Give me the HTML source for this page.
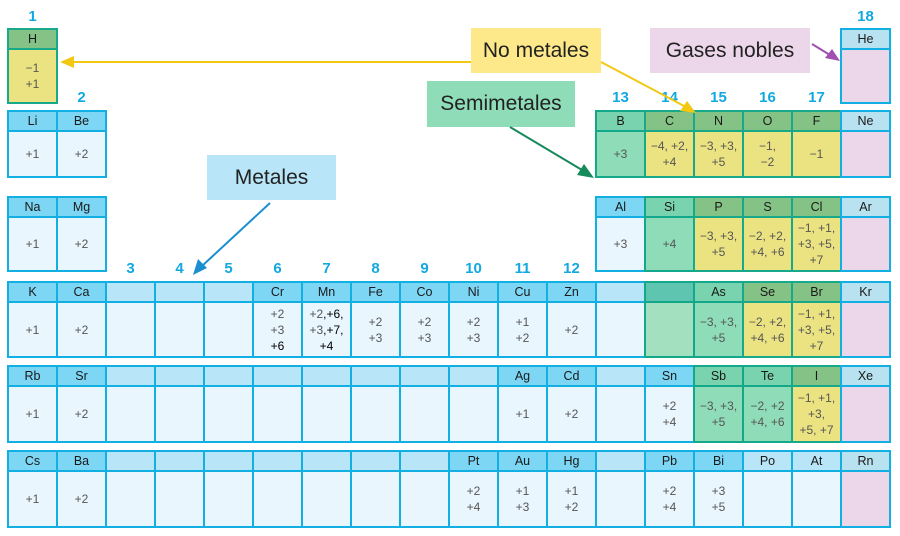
<!DOCTYPE html>
<html><head><meta charset="utf-8"><style>
body{margin:0;width:900px;height:536px;background:#fff;position:relative;overflow:hidden;font-family:"Liberation Sans",sans-serif}
.c{position:absolute;width:51px;box-sizing:border-box;border:2px solid #12b0e2;background:#eaf6fd;margin-left:-1px}
.c .h{height:18px;line-height:18px;text-align:center;font-size:12.5px;color:#1a1a1a;background:#7dd6f4;border-bottom:2px solid #12b0e2}
.c .b{position:absolute;top:20px;bottom:0;left:0;right:0;display:flex;align-items:center;justify-content:center;text-align:center;font-size:12px;line-height:16px;color:#555}
.e .h{background:#b8e6f8}
.s{background:#8fdcb8;border-color:#14a88a}.s .h{background:#78d3ae;border-color:#14a88a}
.s2{background:#a2e0c0;border-color:#14a88a}.s2 .h{background:#5ec6b0;border-color:#14a88a}
.n{background:#ebe382;border-color:#18a88a}.n .h{background:#85c285;border-color:#18a88a}
.g{background:#ecd7ea}.g .h{background:#b8e2f0}
.num{position:absolute;font-weight:bold;font-size:15px;color:#12a8e0;width:49px;text-align:center}
.lab{position:absolute;font-size:21px;color:#222;display:flex;align-items:center;justify-content:center}
</style></head><body>
<div class="num" style="left:8px;top:8px">1</div>
<div class="num" style="left:841px;top:8px">18</div>
<div class="num" style="left:57px;top:89px">2</div>
<div class="num" style="left:596px;top:89px">13</div>
<div class="num" style="left:645px;top:89px">14</div>
<div class="num" style="left:694px;top:89px">15</div>
<div class="num" style="left:743px;top:89px">16</div>
<div class="num" style="left:792px;top:89px">17</div>
<div class="num" style="left:106px;top:260px">3</div>
<div class="num" style="left:155px;top:260px">4</div>
<div class="num" style="left:204px;top:260px">5</div>
<div class="num" style="left:253px;top:260px">6</div>
<div class="num" style="left:302px;top:260px">7</div>
<div class="num" style="left:351px;top:260px">8</div>
<div class="num" style="left:400px;top:260px">9</div>
<div class="num" style="left:449px;top:260px">10</div>
<div class="num" style="left:498px;top:260px">11</div>
<div class="num" style="left:547px;top:260px">12</div>

<div class="lab" style="left:471px;top:28px;width:130px;height:45px;background:#fde98a">No metales</div>
<div class="lab" style="left:650px;top:28px;width:160px;height:45px;background:#ecd7ea">Gases nobles</div>
<div class="lab" style="left:427px;top:81px;width:148px;height:46px;background:#8fdcb8">Semimetales</div>
<div class="lab" style="left:207px;top:155px;width:129px;height:45px;background:#b8e6f8">Metales</div>

<!-- row1 -->
<div class="c n" style="left:8px;top:28px;height:76px"><div class="h">H</div><div class="b">−1<br>+1</div></div>
<div class="c g" style="left:841px;top:28px;height:76px"><div class="h">He</div><div class="b"></div></div>
<!-- row2 -->
<div class="c" style="left:8px;top:110px;height:68px"><div class="h">Li</div><div class="b">+1</div></div>
<div class="c" style="left:57px;top:110px;height:68px"><div class="h">Be</div><div class="b">+2</div></div>
<div class="c s" style="left:596px;top:110px;height:68px"><div class="h">B</div><div class="b">+3</div></div>
<div class="c n" style="left:645px;top:110px;height:68px"><div class="h">C</div><div class="b">−4, +2,<br>+4</div></div>
<div class="c n" style="left:694px;top:110px;height:68px"><div class="h">N</div><div class="b">−3, +3,<br>+5</div></div>
<div class="c n" style="left:743px;top:110px;height:68px"><div class="h">O</div><div class="b">−1,<br>−2</div></div>
<div class="c n" style="left:792px;top:110px;height:68px"><div class="h">F</div><div class="b">−1</div></div>
<div class="c g" style="left:841px;top:110px;height:68px"><div class="h">Ne</div><div class="b"></div></div>
<!-- row3 -->
<div class="c" style="left:8px;top:196px;height:76px"><div class="h">Na</div><div class="b">+1</div></div>
<div class="c" style="left:57px;top:196px;height:76px"><div class="h">Mg</div><div class="b">+2</div></div>
<div class="c" style="left:596px;top:196px;height:76px"><div class="h">Al</div><div class="b">+3</div></div>
<div class="c s" style="left:645px;top:196px;height:76px"><div class="h">Si</div><div class="b">+4</div></div>
<div class="c n" style="left:694px;top:196px;height:76px"><div class="h">P</div><div class="b">−3, +3,<br>+5</div></div>
<div class="c n" style="left:743px;top:196px;height:76px"><div class="h">S</div><div class="b">−2, +2,<br>+4, +6</div></div>
<div class="c n" style="left:792px;top:196px;height:76px"><div class="h">Cl</div><div class="b">−1, +1,<br>+3, +5,<br>+7</div></div>
<div class="c g" style="left:841px;top:196px;height:76px"><div class="h">Ar</div><div class="b"></div></div>
<!-- row4 -->
<div class="c" style="left:8px;top:281px;height:77px"><div class="h">K</div><div class="b">+1</div></div>
<div class="c" style="left:57px;top:281px;height:77px"><div class="h">Ca</div><div class="b">+2</div></div>
<div class="c e" style="left:106px;top:281px;height:77px"><div class="h"></div></div>
<div class="c e" style="left:155px;top:281px;height:77px"><div class="h"></div></div>
<div class="c e" style="left:204px;top:281px;height:77px"><div class="h"></div></div>
<div class="c" style="left:253px;top:281px;height:77px"><div class="h">Cr</div><div class="b"><div>+2<br>+3<br><span style="color:#000">+6</span></div></div></div>
<div class="c" style="left:302px;top:281px;height:77px"><div class="h">Mn</div><div class="b"><div>+2<span style="color:#000">,+6,</span><br>+3<span style="color:#000">,+7,</span><br><span style="color:#000">+4</span></div></div></div>
<div class="c" style="left:351px;top:281px;height:77px"><div class="h">Fe</div><div class="b">+2<br>+3</div></div>
<div class="c" style="left:400px;top:281px;height:77px"><div class="h">Co</div><div class="b">+2<br>+3</div></div>
<div class="c" style="left:449px;top:281px;height:77px"><div class="h">Ni</div><div class="b">+2<br>+3</div></div>
<div class="c" style="left:498px;top:281px;height:77px"><div class="h">Cu</div><div class="b">+1<br>+2</div></div>
<div class="c" style="left:547px;top:281px;height:77px"><div class="h">Zn</div><div class="b">+2</div></div>
<div class="c e" style="left:596px;top:281px;height:77px"><div class="h"></div></div>
<div class="c s2" style="left:645px;top:281px;height:77px"><div class="h"></div></div>
<div class="c s" style="left:694px;top:281px;height:77px"><div class="h">As</div><div class="b">−3, +3,<br>+5</div></div>
<div class="c n" style="left:743px;top:281px;height:77px"><div class="h">Se</div><div class="b">−2, +2,<br>+4, +6</div></div>
<div class="c n" style="left:792px;top:281px;height:77px"><div class="h">Br</div><div class="b">−1, +1,<br>+3, +5,<br>+7</div></div>
<div class="c g" style="left:841px;top:281px;height:77px"><div class="h">Kr</div><div class="b"></div></div>
<!-- row5 -->
<div class="c" style="left:8px;top:365px;height:78px"><div class="h">Rb</div><div class="b">+1</div></div>
<div class="c" style="left:57px;top:365px;height:78px"><div class="h">Sr</div><div class="b">+2</div></div>
<div class="c e" style="left:106px;top:365px;height:78px"><div class="h"></div></div>
<div class="c e" style="left:155px;top:365px;height:78px"><div class="h"></div></div>
<div class="c e" style="left:204px;top:365px;height:78px"><div class="h"></div></div>
<div class="c e" style="left:253px;top:365px;height:78px"><div class="h"></div></div>
<div class="c e" style="left:302px;top:365px;height:78px"><div class="h"></div></div>
<div class="c e" style="left:351px;top:365px;height:78px"><div class="h"></div></div>
<div class="c e" style="left:400px;top:365px;height:78px"><div class="h"></div></div>
<div class="c e" style="left:449px;top:365px;height:78px"><div class="h"></div></div>
<div class="c" style="left:498px;top:365px;height:78px"><div class="h">Ag</div><div class="b">+1</div></div>
<div class="c" style="left:547px;top:365px;height:78px"><div class="h">Cd</div><div class="b">+2</div></div>
<div class="c e" style="left:596px;top:365px;height:78px"><div class="h"></div></div>
<div class="c" style="left:645px;top:365px;height:78px"><div class="h">Sn</div><div class="b">+2<br>+4</div></div>
<div class="c s" style="left:694px;top:365px;height:78px"><div class="h">Sb</div><div class="b">−3, +3,<br>+5</div></div>
<div class="c s" style="left:743px;top:365px;height:78px"><div class="h">Te</div><div class="b">−2, +2<br>+4, +6</div></div>
<div class="c n" style="left:792px;top:365px;height:78px"><div class="h">I</div><div class="b">−1, +1,<br>+3,<br>+5, +7</div></div>
<div class="c g" style="left:841px;top:365px;height:78px"><div class="h">Xe</div><div class="b"></div></div>
<!-- row6 -->
<div class="c" style="left:8px;top:450px;height:78px"><div class="h">Cs</div><div class="b">+1</div></div>
<div class="c" style="left:57px;top:450px;height:78px"><div class="h">Ba</div><div class="b">+2</div></div>
<div class="c e" style="left:106px;top:450px;height:78px"><div class="h"></div></div>
<div class="c e" style="left:155px;top:450px;height:78px"><div class="h"></div></div>
<div class="c e" style="left:204px;top:450px;height:78px"><div class="h"></div></div>
<div class="c e" style="left:253px;top:450px;height:78px"><div class="h"></div></div>
<div class="c e" style="left:302px;top:450px;height:78px"><div class="h"></div></div>
<div class="c e" style="left:351px;top:450px;height:78px"><div class="h"></div></div>
<div class="c e" style="left:400px;top:450px;height:78px"><div class="h"></div></div>
<div class="c" style="left:449px;top:450px;height:78px"><div class="h">Pt</div><div class="b">+2<br>+4</div></div>
<div class="c" style="left:498px;top:450px;height:78px"><div class="h">Au</div><div class="b">+1<br>+3</div></div>
<div class="c" style="left:547px;top:450px;height:78px"><div class="h">Hg</div><div class="b">+1<br>+2</div></div>
<div class="c e" style="left:596px;top:450px;height:78px"><div class="h"></div></div>
<div class="c" style="left:645px;top:450px;height:78px"><div class="h">Pb</div><div class="b">+2<br>+4</div></div>
<div class="c" style="left:694px;top:450px;height:78px"><div class="h">Bi</div><div class="b">+3<br>+5</div></div>
<div class="c e" style="left:743px;top:450px;height:78px"><div class="h">Po</div></div>
<div class="c e" style="left:792px;top:450px;height:78px"><div class="h">At</div></div>
<div class="c g" style="left:841px;top:450px;height:78px"><div class="h">Rn</div><div class="b"></div></div>

<svg width="900" height="536" style="position:absolute;left:0;top:0">
<g stroke-width="2" fill="none">
<line x1="471" y1="62" x2="72" y2="62" stroke="#f2c814"/>
<line x1="601" y1="62" x2="684" y2="106" stroke="#f2c814"/>
<line x1="812" y1="44" x2="830" y2="55" stroke="#a050b0"/>
<line x1="510" y1="127" x2="582" y2="170" stroke="#158a5a"/>
<line x1="270" y1="203" x2="202" y2="266" stroke="#1a8fcf"/>
</g>
<polygon points="60,62 74,56 74,68" fill="#f2c814"/>
<polygon points="696,113 680,111 687,101" fill="#f2c814"/>
<polygon points="840,61 825,58 832,49" fill="#a050b0"/>
<polygon points="594,178 577,175 584,164" fill="#158a5a"/>
<polygon points="193,275 198,259 207,268" fill="#1a8fcf"/>
</svg>
</body></html>
